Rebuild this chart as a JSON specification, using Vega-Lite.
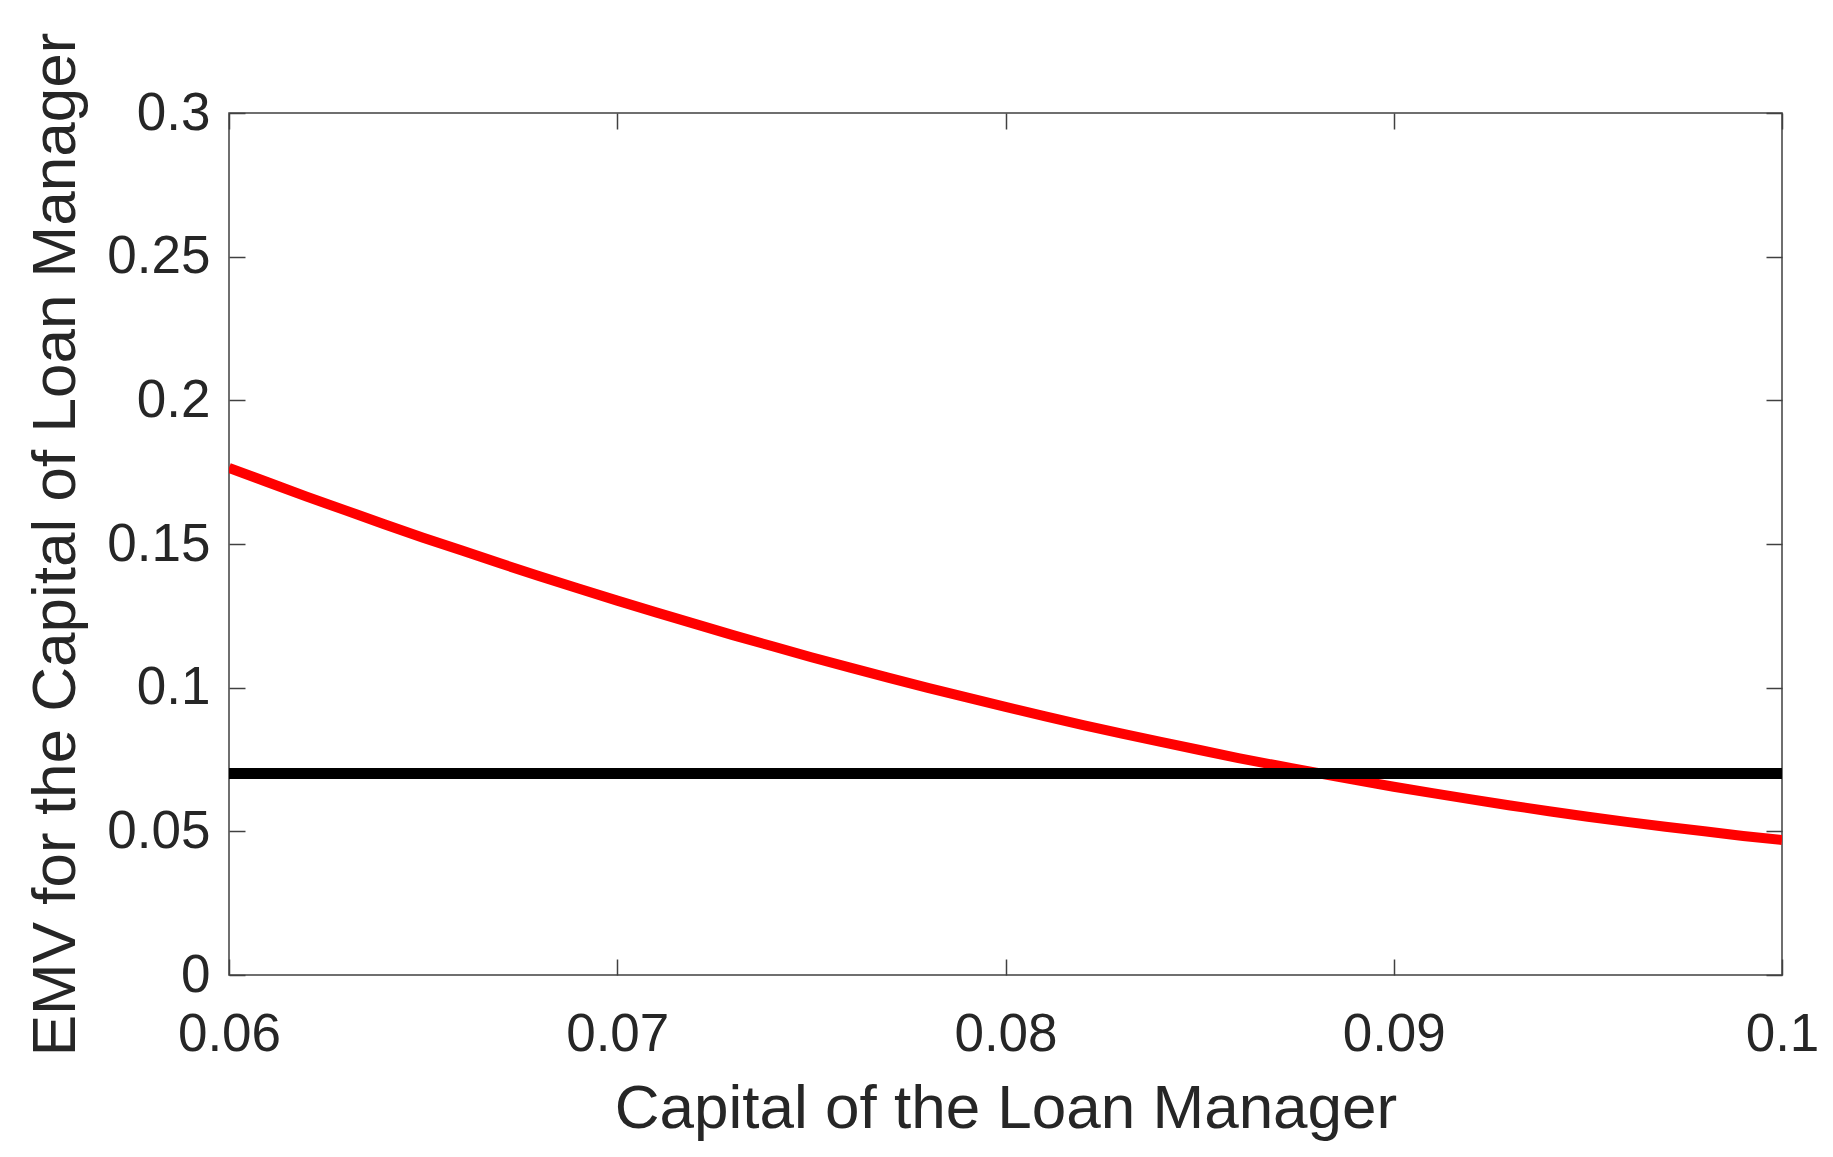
{
  "$schema": "https://vega.github.io/schema/vega-lite/v6.json",
  "autosize": "none",
  "width": 1553,
  "height": 862,
  "padding": {"left": 229, "top": 113, "right": 51, "bottom": 182},
  "background": "white",
  "config": {
    "view": {"stroke": "#404040", "strokeWidth": 1.5},
    "font": "Liberation Sans",
    "axis": {
      "domain": false,
      "grid": false,
      "tickColor": "#404040",
      "tickWidth": 1.5,
      "tickSize": -16,
      "labelFont": "Liberation Sans",
      "labelFontSize": 53,
      "labelColor": "#262626",
      "titleFont": "Liberation Sans",
      "titleFontSize": 62,
      "titleFontWeight": "normal",
      "titleColor": "#262626",
      "labelFlush": false,
      "labelOverlap": false,
      "labelBound": false
    }
  },
  "data": {
    "values": [
      {"x": 0.060, "y": 0.1765}, {"x": 0.061, "y": 0.1715}, {"x": 0.062, "y": 0.1665},
      {"x": 0.063, "y": 0.1617}, {"x": 0.064, "y": 0.1569}, {"x": 0.065, "y": 0.1522},
      {"x": 0.066, "y": 0.1477}, {"x": 0.067, "y": 0.1432}, {"x": 0.068, "y": 0.1388},
      {"x": 0.069, "y": 0.1345}, {"x": 0.070, "y": 0.1303}, {"x": 0.071, "y": 0.1262},
      {"x": 0.072, "y": 0.1222}, {"x": 0.073, "y": 0.1182}, {"x": 0.074, "y": 0.1144},
      {"x": 0.075, "y": 0.1106}, {"x": 0.076, "y": 0.1070}, {"x": 0.077, "y": 0.1034},
      {"x": 0.078, "y": 0.0999}, {"x": 0.079, "y": 0.0966}, {"x": 0.080, "y": 0.0933},
      {"x": 0.081, "y": 0.0901}, {"x": 0.082, "y": 0.0870}, {"x": 0.083, "y": 0.0840},
      {"x": 0.084, "y": 0.0811}, {"x": 0.085, "y": 0.0783}, {"x": 0.086, "y": 0.0755},
      {"x": 0.087, "y": 0.0729}, {"x": 0.088, "y": 0.0704}, {"x": 0.089, "y": 0.0679},
      {"x": 0.090, "y": 0.0655}, {"x": 0.091, "y": 0.0633}, {"x": 0.092, "y": 0.0611},
      {"x": 0.093, "y": 0.0590}, {"x": 0.094, "y": 0.0570}, {"x": 0.095, "y": 0.0551},
      {"x": 0.096, "y": 0.0533}, {"x": 0.097, "y": 0.0516}, {"x": 0.098, "y": 0.0500},
      {"x": 0.099, "y": 0.0484}, {"x": 0.100, "y": 0.0470}
    ]
  },
  "layer": [
    {
      "mark": {"type": "line", "color": "#ff0000", "strokeWidth": 10, "clip": true},
      "encoding": {
        "x": {
          "field": "x", "type": "quantitative",
          "scale": {"domain": [0.06, 0.1], "nice": false, "zero": false},
          "axis": {"orient": "bottom", "values": [0.06, 0.07, 0.08, 0.09, 0.1], "format": ".2~f", "labelPadding": 49, "title": "Capital of the Loan Manager", "titlePadding": 17}
        },
        "y": {
          "field": "y", "type": "quantitative",
          "scale": {"domain": [0, 0.3], "nice": false},
          "axis": {"orient": "left", "values": [0, 0.05, 0.1, 0.15, 0.2, 0.25, 0.3], "format": ".2~f", "labelPadding": 35, "title": "EMV for the Capital of Loan Manager", "titlePadding": 19}
        }
      }
    },
    {
      "mark": {"type": "line", "opacity": 0},
      "encoding": {
        "x": {
          "field": "x", "type": "quantitative",
          "scale": {"domain": [0.06, 0.1], "nice": false, "zero": false},
          "axis": {"orient": "top", "values": [0.06, 0.07, 0.08, 0.09, 0.1], "labels": false, "title": null}
        },
        "y": {
          "field": "y", "type": "quantitative",
          "scale": {"domain": [0, 0.3], "nice": false},
          "axis": {"orient": "right", "values": [0, 0.05, 0.1, 0.15, 0.2, 0.25, 0.3], "labels": false, "title": null}
        }
      }
    },
    {
      "mark": {"type": "rule", "color": "#000000", "strokeWidth": 10},
      "encoding": {
        "y": {"datum": 0.07, "type": "quantitative", "axis": null}
      }
    }
  ],
  "resolve": {"axis": {"x": "independent", "y": "independent"}}
}
